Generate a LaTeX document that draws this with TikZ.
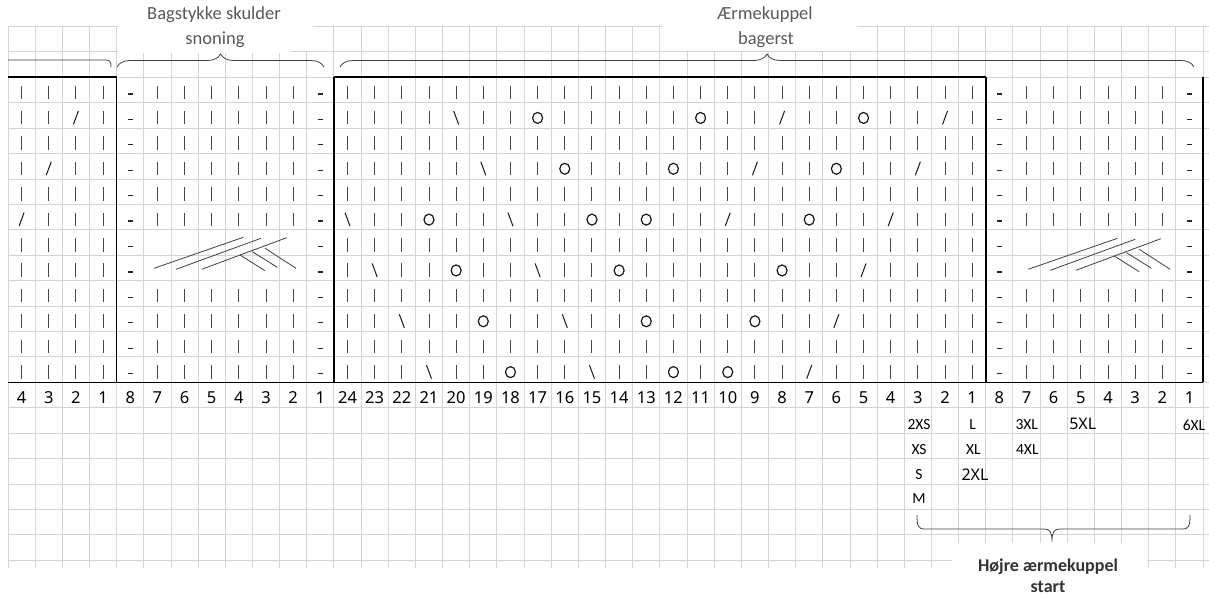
\documentclass[tikz,border=0pt]{standalone}
\usepackage{fontspec}
\setmainfont{Carlito}
\newfontfamily\numfont{Noto Sans}
\usetikzlibrary{decorations.pathreplacing}
\tikzset{
  gridline/.style={draw=black!17, line width=0.9pt},
  frame/.style={draw=black, line width=1.6pt},
  knit/.style={draw=black!72, line width=0.9pt},
  purl/.style={draw=black!85, line width=1.3pt},
  slant/.style={draw=black!90, line width=1pt},
  yo/.style={draw=black!90, line width=1.2pt},
  cablestr/.style={draw=black!75, line width=0.8pt},
  bracket/.style={draw=black!75, line width=0.8pt},
  numlbl/.style={font=\numfont\fontsize{16.5}{16.5}\selectfont, inner sep=0pt},
  sizelbl/.style={font=\fontsize{15.5}{15.5}\selectfont, inner sep=0pt},
  bigsize/.style={font=\numfont\fontsize{16}{16}\selectfont, inner sep=0pt},
  titletxt/.style={font=\fontsize{18.5}{18.5}\selectfont, text=black!65, inner sep=0pt},
  boldtitle/.style={font=\bfseries\fontsize{18}{18}\selectfont, text=black!80, inner sep=0pt},
}
\newcommand\symk{\draw[knit] (\X,\Y-7) -- (\X,\Y+6.5);}
\newcommand\symp{\draw[purl] (\X-2.5,\Y+1.5) -- (\X+2.5,\Y+1.5);}
\newcommand\syms{\draw[slant] (\X+2.5,\Y-7) -- (\X-2.5,\Y+6.5);}
\newcommand\symb{\draw[slant] (\X-2.5,\Y-7) -- (\X+2.5,\Y+6.5);}
\newcommand\symo{\draw[yo] (\X,\Y) ellipse (5 and 5.5);}
\newcommand\symn{}
\def\Ak{k,k,k,k}
\def\Bn{p,k,k,k,k,k,k,p}
\def\Bc{p,n,n,n,n,n,n,p}
\def\Ck{k,k,k,k,k,k,k,k,k,k,k,k,k,k,k,k,k,k,k,k,k,k,k,k}
\newcommand\drawrow[2]{%
  \edef\rowlist{#2}%
  \foreach \s [count=\ci from 0] in \rowlist {%
    \pgfmathsetmacro\X{8+(\ci+0.5)*27.16}%
    \pgfmathsetmacro\Y{77.3+(#1+0.5)*25.42+2.5}%
    \csname sym\s\endcsname
  }%
}
\newcommand\cablepic[2]{%
  \begin{scope}[shift={(#1,#2)}]
    \draw[cablestr] (37.4,268.3) -- (126.7,237.3);
    \draw[cablestr] (59.4,269.3) -- (144.4,238.3);
    \draw[cablestr] (85.1,269.3) -- (170.1,237.7);
    \draw[cablestr] (123.4,255) -- (148.4,270.7);
    \draw[cablestr] (135.7,251.7) -- (160.7,267.3);
    \draw[cablestr] (148.4,248.3) -- (179.4,268.3);
  \end{scope}}
\begin{document}
\begin{tikzpicture}[x=1pt,y=-1pt]
\useasboundingbox (0,0) rectangle (1209,596);
\fill[white] (0,0) rectangle (1209,596);
% grid
\foreach \i in {0,...,44} {\pgfmathsetmacro\gx{8+\i*27.16}\draw[gridline] (\gx,26) -- (\gx,568);}
\draw[gridline] (8,26.3) -- (1209,26.3);
\draw[gridline] (8,51.9) -- (1209,51.9);
\foreach \k in {0,...,19} {\pgfmathsetmacro\gy{77.3+\k*25.42}\draw[gridline] (8,\gy) -- (1209,\gy);}
% white text boxes over the grid
\fill[white] (117.5,-1) rectangle (313,51);
\fill[white] (117.5,50) rectangle (290,53.5);
\fill[white] (661.5,-1) rectangle (857,51);
\fill[white] (952,543) rectangle (1146.5,597);
% frames
\draw[frame] (8,77.3) -- (116.6,77.3);
\draw[frame] (333.9,77.3) -- (985.8,77.3);
\foreach \fx in {116.6,333.9,985.8,1203} \draw[frame] (\fx,77.3) -- (\fx,382.3);
\draw[frame] (8,382.3) -- (1203,382.3);
% stitches
\drawrow{0}{\Ak,\Bn,\Ck,\Bn}
\drawrow{1}{k,k,s,k,\Bn,k,k,k,k,b,k,k,o,k,k,k,k,k,o,k,k,s,k,k,o,k,k,s,k,\Bn}
\drawrow{2}{\Ak,\Bn,\Ck,\Bn}
\drawrow{3}{k,s,k,k,\Bn,k,k,k,k,k,b,k,k,o,k,k,k,o,k,k,s,k,k,o,k,k,s,k,k,\Bn}
\drawrow{4}{\Ak,\Bn,\Ck,\Bn}
\drawrow{5}{s,k,k,k,\Bn,b,k,k,o,k,k,b,k,k,o,k,o,k,k,s,k,k,o,k,k,s,k,k,k,\Bn}
\drawrow{6}{\Ak,\Bc,\Ck,\Bc}
\drawrow{7}{\Ak,\Bc,k,b,k,k,o,k,k,b,k,k,o,k,k,k,k,k,o,k,k,s,k,k,k,k,\Bc}
\drawrow{8}{\Ak,\Bn,\Ck,\Bn}
\drawrow{9}{\Ak,\Bn,k,k,b,k,k,o,k,k,b,k,k,o,k,k,k,o,k,k,s,k,k,k,k,k,\Bn}
\drawrow{10}{\Ak,\Bn,\Ck,\Bn}
\drawrow{11}{\Ak,\Bn,k,k,k,b,k,k,o,k,k,b,k,k,o,k,o,k,k,s,k,k,k,k,k,k,\Bn}
% cables
\cablepic{116.6}{0}
\cablepic{990.8}{1}
% column numbers
\foreach \lab [count=\ci from 0] in {4,3,2,1,8,7,6,5,4,3,2,1,24,23,22,21,20,19,18,17,16,15,14,13,12,11,10,9,8,7,6,5,4,3,2,1,8,7,6,5,4,3,2,1}
  \node[numlbl] (num\ci) at ({8+(\ci+0.5)*27.16},397.5) {\lab};
% size labels
\node[sizelbl] (s2xs) at (919,425) {2XS};
\node[sizelbl] (sl) at (972.7,425) {L};
\node[sizelbl] (s3xl) at (1026.7,425) {3XL};
\node[bigsize] (s5xl) at (1082.7,424) {5XL};
\node[sizelbl] (s6xl) at (1194,425) {6XL};
\node[sizelbl] (sxs) at (919,450) {XS};
\node[sizelbl] (sxl) at (973.3,450) {XL};
\node[sizelbl] (s4xl) at (1027.3,450) {4XL};
\node[sizelbl] (ss) at (919,475) {S};
\node[bigsize] (s2xl) at (975,475) {2XL};
\node[sizelbl] (sm) at (919,498.3) {M};
% brackets
\draw[bracket] (8,60) -- (106,60) .. controls (110,60) and (111,62) .. (111,67);
\draw[bracket, decorate, decoration={brace, amplitude=13pt}] (117,67) -- (324,67);
\draw[bracket, decorate, decoration={brace, amplitude=13pt}] (340,67) -- (1194,67);
\draw[bracket] (917,515) .. controls (917,526) and (918,529) .. (925,529) -- (1044,529)
  .. controls (1050,529) and (1052,532) .. (1052,541.5)
  .. controls (1052,532) and (1054,529) .. (1060,529) -- (1182,529)
  .. controls (1189,529) and (1190,526) .. (1190,515);
% titles
\node[titletxt] (t1a) at (214,15) {Bagstykke skulder};
\node[titletxt] (t1b) at (215,40) {snoning};
\node[titletxt] (t2a) at (765,15) {Ærmekuppel};
\node[titletxt] (t2b) at (766,40) {bagerst};
\node[boldtitle] (t3a) at (1048,566.7) {Højre ærmekuppel};
\node[boldtitle] (t3b) at (1048,587.3) {start};
\end{tikzpicture}
\end{document}
